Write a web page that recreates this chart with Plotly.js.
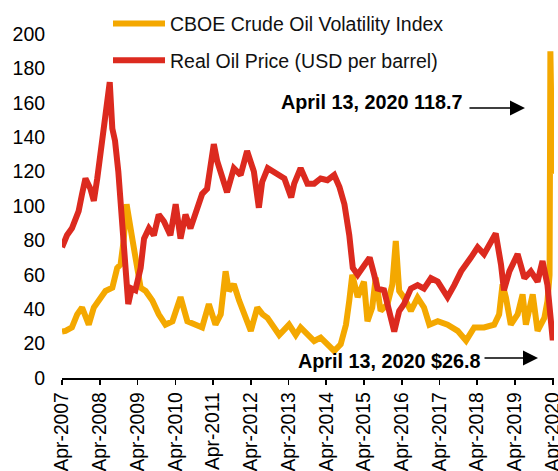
<!DOCTYPE html>
<html>
<head>
<meta charset="utf-8">
<script src="https://cdn.plot.ly/plotly-3.0.1.min.js"></script>
<style>html,body{margin:0;padding:0;background:#fff;}#chart{width:558px;height:471px;}</style>
</head>
<body>
<div id="chart"></div>
<script>
// Real oil price (USD per barrel)
const oilDates = ["2007-04-01","2007-05-19","2007-07-06","2007-08-08","2007-09-09","2007-10-12","2007-11-14",
"2008-01-01","2008-02-03","2008-03-07","2008-04-09","2008-05-08","2008-06-10","2008-07-06","2008-07-31","2008-08-26",
"2008-09-27","2008-10-19","2008-11-14","2008-12-06","2009-01-01","2009-02-03","2009-03-11","2009-05-01","2009-06-03",
"2009-07-20","2009-09-06","2009-10-23","2009-12-13","2010-02-13","2010-04-05","2010-05-22","2010-07-09","2010-08-26",
"2010-10-16","2010-12-17","2011-02-03","2011-03-07","2011-04-09","2011-05-12","2011-06-28","2011-08-15","2011-10-20",
"2011-12-25","2012-02-25","2012-05-01","2012-06-18","2012-07-20","2012-09-12","2012-12-15","2013-02-20","2013-04-27",
"2013-05-26","2013-07-27","2013-10-01","2013-12-05","2014-02-06","2014-04-12","2014-06-17","2014-08-07","2014-09-24",
"2014-11-10","2014-12-14","2015-01-30","2015-04-05","2015-05-26","2015-07-09","2015-08-10","2015-10-12","2015-11-28",
"2016-01-19","2016-03-07","2016-04-23","2016-06-28","2016-09-01","2016-11-02","2017-01-08","2017-03-15","2017-06-18",
"2017-08-22","2017-10-27","2018-01-30","2018-04-05","2018-06-06","2018-07-27","2018-09-27","2018-11-17","2018-12-16",
"2019-02-06","2019-04-27","2019-07-02","2019-09-02","2019-11-06","2019-12-24","2020-02-10","2020-03-14","2020-04-01",
"2020-04-13"];
const oilPrice = [76,83,87,93,97,107,116,
110,103,116,130,145,159,172,145,138,
120,103,76,56,43,52,51,64,81,
87,83,95,91,83,101,81,95,87,
95,107,110,126,136,126,118,108,122,
118,132,120,99,114,122,118,116,105,
113,122,113,113,116,115,118,111,101,
83,64,60,66,70,60,52,51,39,
27,39,43,52,54,52,58,56,47,
54,62,70,76,72,78,84,66,51,
62,72,58,62,56,68,54,35,22,
26.8];

// CBOE Crude Oil Volatility Index
const ovxDates = ["2007-04-01","2007-05-05","2007-07-06","2007-08-26","2007-10-12","2007-12-16","2008-02-03","2008-03-22",
"2008-05-26","2008-07-31","2008-09-16","2008-10-19","2008-11-17","2008-12-16","2009-01-15","2009-02-13","2009-03-18",
"2009-05-01","2009-06-18","2009-08-22","2009-10-23","2009-12-27","2010-03-05","2010-05-22","2010-07-27","2010-10-16",
"2010-12-17","2011-02-20","2011-04-25","2011-06-15","2011-08-01","2011-09-02","2011-10-20","2011-12-10","2012-01-27",
"2012-04-01","2012-06-03","2012-07-24","2012-09-09","2012-10-27","2013-01-01","2013-04-06","2013-06-10","2013-07-27",
"2013-10-01","2013-12-05","2014-02-06","2014-04-12","2014-06-17","2014-08-19","2014-10-09","2014-11-10","2014-12-09",
"2015-01-30","2015-04-01","2015-05-05","2015-06-20","2015-07-24","2015-09-09","2015-11-14","2016-01-01","2016-02-03",
"2016-03-07","2016-04-23","2016-06-28","2016-09-01","2016-11-02","2016-12-24","2017-03-15","2017-06-18","2017-09-24",
"2017-12-14","2018-03-03","2018-06-06","2018-09-12","2018-10-30","2018-12-02","2019-01-04","2019-02-20","2019-04-27",
"2019-06-14","2019-07-16","2019-09-20","2019-11-06","2020-01-11","2020-02-10","2020-03-01","2020-03-09","2020-03-20",
"2020-04-13"];
const ovxValue = [27,27.4,29.4,37,41,31,41,45,
50.6,52.5,64,66,79.6,101,87,79.6,68,
52.5,50.6,45,37,31,33,47,33,31,
29.4,43,31,37,62,50.6,54.5,45,37,
27.4,41,37,35,31,25,31,25,29.4,
25,21.5,23.5,19.6,15.7,19.6,31,45,60,
47,56,33,41,58.3,39,42.8,54.5,79.7,
50.6,46.7,39,46.7,41,31,33,31,27.4,
21.7,29.4,29.4,31,37,54.5,46.7,31,37,
48.6,31,48.6,27.4,35,44.8,60,190,150,
118.7];

const tickDates = ["2007-04-01","2008-04-01","2009-04-01","2010-04-01","2011-04-01","2012-04-01","2013-04-01",
"2014-04-01","2015-04-01","2016-04-01","2017-04-01","2018-04-01","2019-04-01","2020-04-01"];
const tickLabels = ["Apr-2007","Apr-2008","Apr-2009","Apr-2010","Apr-2011","Apr-2012","Apr-2013",
"Apr-2014","Apr-2015","Apr-2016","Apr-2017","Apr-2018","Apr-2019","Apr-2020"];
const yTicks = [0,20,40,60,80,100,120,140,160,180,200];

const seriesNames = ["CBOE Crude Oil Volatility Index", "Real Oil Price (USD per barrel)"];
const noteTexts = ["<b>April 13, 2020 118.7</b>", "<b>April 13, 2020 $26.8</b>"];

const FONT = "Liberation Sans, Arial, sans-serif";
const ORANGE = "#F4A800";
const RED = "#DC2A1F";

const traces = [
  {x: ovxDates, y: ovxValue, type: "scatter", mode: "lines", name: seriesNames[0],
   legendgroup: "a", line: {color: ORANGE, width: 6, shape: "linear"}},
  {x: oilDates, y: oilPrice, type: "scatter", mode: "lines", name: seriesNames[1],
   legendgroup: "b", line: {color: RED, width: 6, shape: "linear"}}
];

const layout = {
  width: 558, height: 471,
  margin: {l: 62, r: 4, t: 34, b: 93, pad: 0, autoexpand: false},
  paper_bgcolor: "#fff", plot_bgcolor: "#fff",
  font: {family: FONT, size: 19.5, color: "#000"},
  showlegend: true,
  legend: {x: 0.0935, xanchor: "left", yref: "container", y: 0.991, yanchor: "top",
    bgcolor: "rgba(0,0,0,0)", font: {family: FONT, size: 19.5, color: "#111"},
    traceorder: "grouped", tracegroupgap: 8.5, itemwidth: 52},
  xaxis: {type: "date", range: ["2007-04-01", "2020-04-13"], tickvals: tickDates, ticktext: tickLabels,
    tickangle: -90, ticks: "outside", ticklen: 5, tickwidth: 1.5, tickcolor: "#000",
    ticklabeloverflow: "allow",
    showline: true, linecolor: "#000", linewidth: 1.5, showgrid: false, zeroline: false,
    tickfont: {family: FONT, size: 19.3, color: "#000"}},
  yaxis: {range: [0, 200], tickvals: yTicks, showline: false, showgrid: false, zeroline: false,
    ticks: "outside", ticklen: 12, tickcolor: "rgba(0,0,0,0)",
    tickfont: {family: FONT, size: 19.5, color: "#000"}},
  annotations: [
    {xref: "paper", yref: "paper", x: 0.629, y: 0.802, text: noteTexts[0], showarrow: false,
     xanchor: "center", yanchor: "middle", font: {family: FONT, size: 19.8, color: "#000"}},
    {xref: "paper", yref: "paper", x: 0.665, y: 0.048, text: noteTexts[1], showarrow: false,
     xanchor: "center", yanchor: "middle", font: {family: FONT, size: 19.8, color: "#000"}},
    {xref: "paper", yref: "paper", x: 0.941, y: 0.785, text: "", showarrow: true,
     ax: -57, ay: 0, arrowhead: 2, arrowsize: 2, arrowwidth: 1.5, arrowcolor: "#000", standoff: 0, startstandoff: 0},
    {xref: "paper", yref: "paper", x: 0.9675, y: 0.058, text: "", showarrow: true,
     ax: -55, ay: 0, arrowhead: 2, arrowsize: 2, arrowwidth: 1.5, arrowcolor: "#000", standoff: 0, startstandoff: 0}
  ]
};

Plotly.newPlot("chart", traces, layout, {displayModeBar: false, staticPlot: true});
</script>
</body>
</html>
